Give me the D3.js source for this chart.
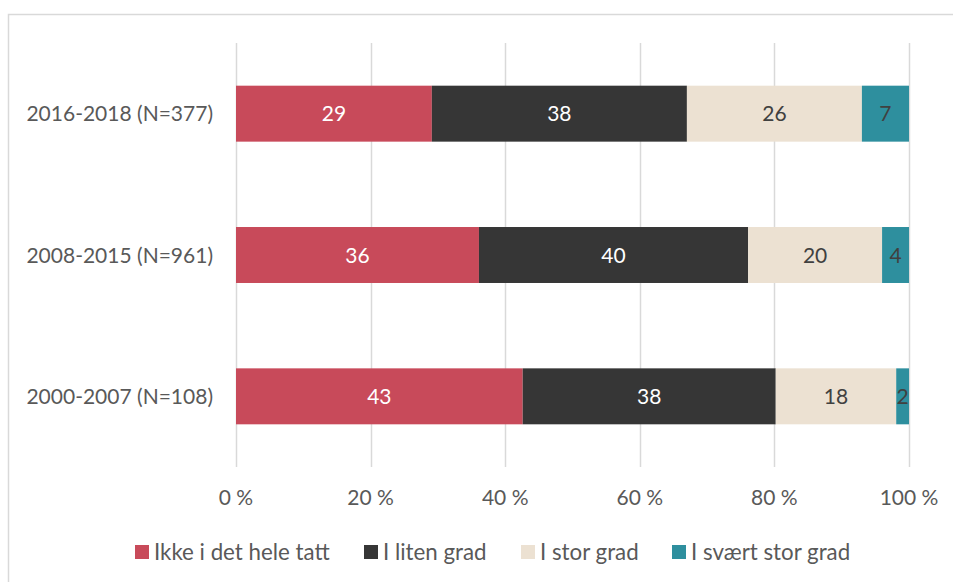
<!DOCTYPE html>
<html><head><meta charset="utf-8">
<script src="https://cdn.jsdelivr.net/npm/d3@7"></script>
<style>body{margin:0;background:#fff}svg{display:block}text{font-family:Lato,"Open Sans",sans-serif}</style>
</head><body><svg id="c" width="953" height="582"></svg>
<script>
const categories = ["2016-2018 (N=377)", "2008-2015 (N=961)", "2000-2007 (N=108)"];
const seriesNames = ["Ikke i det hele tatt", "I liten grad", "I stor grad", "I svært stor grad"];
const seriesValues = [
  [29.1, 36.1, 42.6],
  [37.9, 40.0, 37.6],
  [26.0, 19.9, 17.9],
  [7.0, 4.0, 1.9]
];
const seriesLabels = [
  ["29", "36", "43"],
  ["38", "40", "38"],
  ["26", "20", "18"],
  ["7", "4", "2"]
];
const colors = ["#C84A5A", "#363636", "#ECE1D2", "#2E8F9E"];
const labelColors = ["#ffffff", "#ffffff", "#404040", "#404040"];
const tickValues = [0, 20, 40, 60, 80, 100];

const svg = d3.select("#c");
svg.append("rect").attr("x", 8.5).attr("y", 14.5).attr("width", 960).attr("height", 600)
  .attr("fill", "none").attr("stroke", "#d9d9d9").attr("stroke-width", 1.5);

const x = d3.scaleLinear().domain([0, 100]).range([236, 909]);
const y = d3.scaleBand().domain(categories).range([43, 467]).paddingInner(0.604).paddingOuter(0.302);

// gridlines
svg.append("g").selectAll("line").data(tickValues).join("line")
  .attr("x1", d => Math.round(x(d)) + 0.5).attr("x2", d => Math.round(x(d)) + 0.5)
  .attr("y1", 43).attr("y2", 467).attr("stroke", "#d9d9d9").attr("stroke-width", 1.5);

// bars
categories.forEach((cat, ci) => {
  let acc = 0;
  seriesValues.forEach((vals, si) => {
    const v = vals[ci];
    const x0 = x(acc), x1 = x(acc + v);
    acc += v;
    svg.append("rect").attr("x", x0).attr("y", y(cat)).attr("width", x1 - x0).attr("height", y.bandwidth())
      .attr("fill", colors[si]);
    svg.append("text").attr("x", (x0 + x1) / 2).attr("y", y(cat) + y.bandwidth() / 2)
      .attr("dy", "0.36em").attr("text-anchor", "middle").attr("font-size", 21)
      .attr("fill", labelColors[si]).text(seriesLabels[si][ci]);
  });
});

// y labels
svg.append("g").selectAll("text").data(categories).join("text")
  .attr("x", 213).attr("y", d => y(d) + y.bandwidth() / 2).attr("dy", "0.36em")
  .attr("text-anchor", "end").attr("font-size", 21).attr("fill", "#595959").text(d => d);

// x tick labels
svg.append("g").selectAll("text").data(tickValues).join("text")
  .attr("x", d => x(d)).attr("y", 497).attr("dy", "0.36em").attr("text-anchor", "middle")
  .attr("font-size", 21).attr("fill", "#595959").text(d => d + " %");

// legend
const legendX = [135, 364, 521, 672];
const lg = svg.append("g");
seriesNames.forEach((n, i) => {
  lg.append("rect").attr("x", legendX[i]).attr("y", 545).attr("width", 14).attr("height", 14).attr("fill", colors[i]);
  lg.append("text").attr("x", legendX[i] + 19).attr("y", 552).attr("dy", "0.36em")
    .attr("font-size", 22.3).attr("fill", "#595959").text(n);
});
</script></body></html>
